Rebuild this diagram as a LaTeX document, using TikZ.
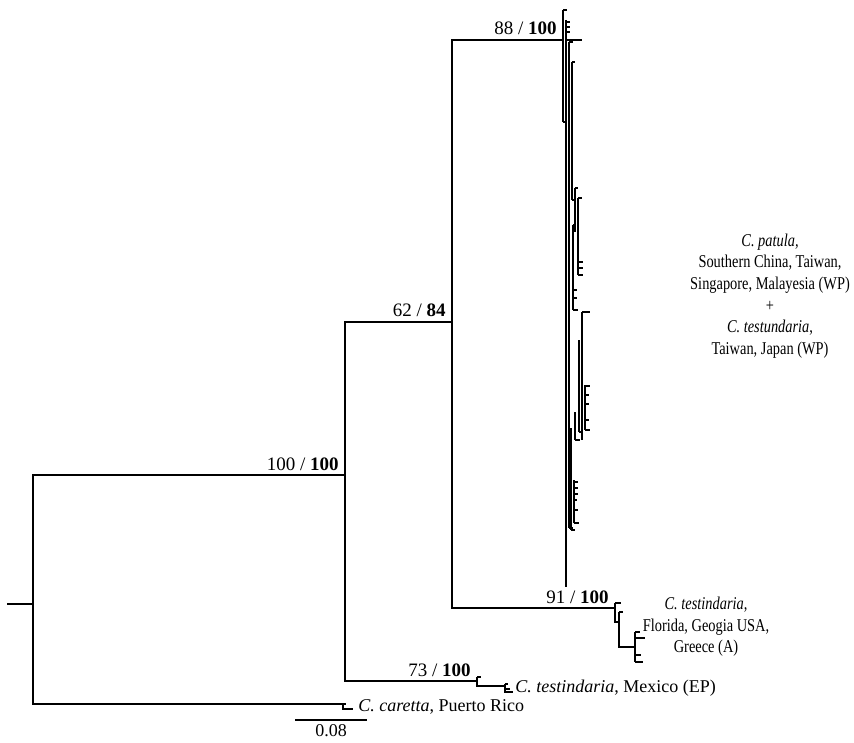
\documentclass[tikz,border=0pt]{standalone}
\usepackage{fontspec}
\setmainfont{Liberation Serif}
\usetikzlibrary{positioning}

\tikzset{
  branch/.style={line width=1pt, line cap=rect},
  twig/.style={line width=0.7pt},
  support/.style={font=\fontsize{9.5}{11}\selectfont, anchor=base east, inner sep=0pt, xshift=-3pt, yshift=2.5pt},
  taxon/.style={font=\fontsize{9}{11}\selectfont, anchor=west, inner sep=0pt},
  clade/.style={font=\fontsize{9}{10.8}\selectfont, align=center, inner sep=0pt, xscale=0.8, transform shape}
}

\begin{document}
\begin{tikzpicture}[x=0.5pt, y=-0.5pt]
  \useasboundingbox (0,0) rectangle (854,742);

  % Internal nodes
  \coordinate (base) at (8,604);
  \coordinate (root) at (33,604);
  \coordinate (ingroup) at (345,475);
  \coordinate (caretta) at (343,704);
  \coordinate (pacific) at (452,322);
  \coordinate (mexico) at (477,681);
  \coordinate (patula) at (563,40);
  \coordinate (atlantic) at (615,608);

  % Backbone
  \draw[branch] (base) -- (root);
  \draw[branch] (root) |- (ingroup);
  \draw[branch] (root) |- (caretta);
  \draw[branch] (ingroup) |- (pacific);
  \draw[branch] (ingroup) |- (mexico);
  \draw[branch] (pacific) |- (patula);
  \draw[branch] (pacific) |- (atlantic);

  % Outgroup tip
  \draw[twig] (caretta) -- (343,709) -- (353,709);
  \draw[twig] (caretta) -- (346,704);

  % Mexico (EP)
  \draw[twig] (477,677) -- (477,686) -- (505,686);
  \draw[twig] (477,677) -- (481,677);
  \draw[twig] (505,684) -- (505,692) -- (513,692);
  \draw[twig] (505,684) -- (508,684);
  \draw[twig] (505,689) -- (510,689);

  % Atlantic clade
  \draw[twig] (615,603) -- (615,622) -- (619,622);
  \draw[twig] (615,603) -- (621,603);
  \draw[twig] (619,612) -- (619,647) -- (635,647);
  \draw[twig] (619,612) -- (623,612);
  \draw[twig] (635,632) -- (635,662);
  \foreach \y/\l in {632/5, 638/10, 655/6, 662/8}
    \draw[twig] (635,\y) -- ++(\l,0);

  % Western Pacific clade (comb)
  \foreach \x/\ya/\yb in {563/10/122, 566/20/587, 569/42/528, 572/62/200, 575/188/232,
      578/198/275, 573/225/310, 582/312/440, 585/385/430, 579/340/432, 575/412/440,
      571/428/530, 574/480/523}
    \draw[twig] (\x,\ya) -- (\x,\yb);
  \foreach \x/\y/\l in {563/10/4, 563/122/3, 566/22/4, 566/27/4, 566/32/4, 566/40/16,
      569/42/4, 572/62/3, 572/200/3, 575/188/3, 578/198/4, 578/262/5, 578/268/5,
      578/275/5, 573/225/3, 573/290/4, 573/298/4, 573/310/5, 582/312/8, 585/386/5,
      585/395/4, 585/404/4, 585/420/4, 585/430/5, 579/432/4, 575/440/5, 571/530/4,
      574/482/4, 574/488/4, 574/494/4, 574/500/3, 574/510/4, 574/523/5, 569/528/4}
    \draw[twig] (\x,\y) -- ++(\l,0);

  % Support values
  \node[support] (s1) at (ingroup) {100 / \textbf{100}};
  \node[support] (s2) at (pacific) {62 / \textbf{84}};
  \node[support] (s3) at (patula) {88 / \textbf{100}};
  \node[support] (s4) at (atlantic) {91 / \textbf{100}};
  \node[support] (s5) at (mexico) {73 / \textbf{100}};

  % Tip labels
  \node[taxon] (mx) at (515,688) {\textit{C. testindaria}, Mexico (EP)};
  \node[taxon] (pr) at (358,707) {\textit{C. caretta}, Puerto Rico};
  \node[clade] (wp) at (770,296) {\textit{C. patula,}\\Southern China, Taiwan,\\Singapore, Malayesia (WP)\\+\\\textit{C. testundaria},\\Taiwan, Japan (WP)};
  \node[clade] (at) at (706,627) {\textit{C. testindaria},\\Florida, Geogia USA,\\Greece (A)};

  % Scale bar
  \coordinate (sbl) at (296,720);
  \coordinate (sbr) at (366,720);
  \draw[branch] (sbl) -- (sbr) node[midway, below=2pt, font=\fontsize{9}{10}\selectfont, inner sep=0pt] (sb) {0.08};
\end{tikzpicture}
\end{document}
